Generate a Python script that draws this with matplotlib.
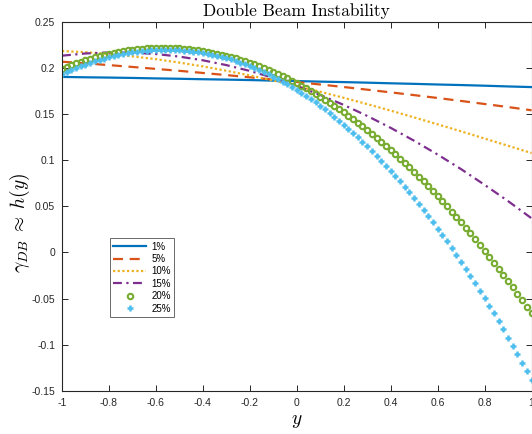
import numpy as np
import matplotlib
matplotlib.use("Agg")
import matplotlib.pyplot as plt
from matplotlib.ticker import FixedLocator, FixedFormatter

plt.rcParams['mathtext.fontset'] = 'cm'

# ---------------- data ----------------
labels = ["1%", "5%", "10%", "15%", "20%", "25%"]

y_coarse = np.linspace(-1, 1, 21)
h_1 = [0.1900, 0.1896, 0.1893, 0.1889, 0.1884, 0.1880, 0.1875, 0.1871, 0.1866, 0.1860, 0.1855,
       0.1849, 0.1844, 0.1838, 0.1831, 0.1825, 0.1818, 0.1812, 0.1805, 0.1797, 0.1790]
h_5 = [0.2065, 0.2047, 0.2028, 0.2008, 0.1987, 0.1966, 0.1943, 0.1920, 0.1896, 0.1871, 0.1845,
       0.1818, 0.1791, 0.1762, 0.1733, 0.1703, 0.1672, 0.1640, 0.1607, 0.1574, 0.1539]
h_10 = [0.2180, 0.2168, 0.2148, 0.2123, 0.2092, 0.2055, 0.2014, 0.1967, 0.1916, 0.1861, 0.1802,
        0.1740, 0.1674, 0.1606, 0.1535, 0.1462, 0.1387, 0.1311, 0.1233, 0.1155, 0.1076]
h_15 = [0.2130, 0.2154, 0.2165, 0.2163, 0.2148, 0.2120, 0.2080, 0.2028, 0.1965, 0.1890, 0.1803,
        0.1705, 0.1597, 0.1478, 0.1349, 0.1209, 0.1060, 0.0902, 0.0732, 0.0556, 0.0370]

y_fine = np.linspace(-1, 1, 101)
h_20 = [0.1990, 0.2010, 0.2030, 0.2048, 0.2066, 0.2082, 0.2098, 0.2113, 0.2126, 0.2139,
        0.2151, 0.2161, 0.2171, 0.2180, 0.2188, 0.2195, 0.2200, 0.2205, 0.2209, 0.2212,
        0.2214, 0.2215, 0.2215, 0.2215, 0.2213, 0.2210, 0.2206, 0.2202, 0.2196, 0.2189,
        0.2182, 0.2173, 0.2164, 0.2153, 0.2142, 0.2130, 0.2116, 0.2102, 0.2087, 0.2071,
        0.2054, 0.2036, 0.2017, 0.1997, 0.1977, 0.1955, 0.1932, 0.1908, 0.1884, 0.1858,
        0.1832,
        0.1805, 0.1776, 0.1747, 0.1717, 0.1686, 0.1654, 0.1621, 0.1587, 0.1552, 0.1517,
        0.1480, 0.1443, 0.1404, 0.1365, 0.1324, 0.1283, 0.1241, 0.1198, 0.1154, 0.1109,
        0.1063, 0.1016, 0.0969, 0.0920, 0.0871, 0.0820, 0.0769, 0.0717, 0.0664, 0.0610,
        0.0555, 0.0499, 0.0442, 0.0385, 0.0326, 0.0266, 0.0206, 0.0145, 0.0083, 0.0020,
        -0.0044, -0.0109, -0.0175, -0.0242, -0.0309, -0.0377, -0.0447, -0.0517, -0.0588, -0.0660]
h_25 = [0.1929, 0.1952, 0.1974, 0.1995, 0.2015, 0.2034, 0.2052, 0.2068, 0.2084, 0.2099,
        0.2113, 0.2125, 0.2137, 0.2147, 0.2157, 0.2165, 0.2172, 0.2179, 0.2184, 0.2188,
        0.2191, 0.2193, 0.2194, 0.2193, 0.2192, 0.2189, 0.2186, 0.2181, 0.2175, 0.2169,
        0.2160, 0.2151, 0.2141, 0.2130, 0.2117, 0.2103, 0.2089, 0.2073, 0.2056, 0.2037,
        0.2018, 0.1997, 0.1976, 0.1953, 0.1929, 0.1904, 0.1877, 0.1850, 0.1821, 0.1791,
        0.1760,
        0.1728, 0.1694, 0.1660, 0.1624, 0.1587, 0.1548, 0.1509, 0.1468, 0.1426, 0.1383,
        0.1339, 0.1293, 0.1247, 0.1198, 0.1149, 0.1099, 0.1047, 0.0994, 0.0940, 0.0884,
        0.0827, 0.0769, 0.0710, 0.0649, 0.0588, 0.0525, 0.0460, 0.0395, 0.0328, 0.0259,
        0.0190, 0.0119, 0.0047, -0.0027, -0.0101, -0.0177, -0.0255, -0.0333, -0.0413, -0.0495,
        -0.0577, -0.0661, -0.0746, -0.0833, -0.0921, -0.1010, -0.1101, -0.1193, -0.1286, -0.1381]

xticks = [-1, -0.8, -0.6, -0.4, -0.2, 0, 0.2, 0.4, 0.6, 0.8, 1]
xticklabels = ["-1", "-0.8", "-0.6", "-0.4", "-0.2", "0", "0.2", "0.4", "0.6", "0.8", "1"]
yticks = [-0.15, -0.1, -0.05, 0, 0.05, 0.1, 0.15, 0.2, 0.25]
yticklabels = ["-0.15", "-0.1", "-0.05", "0", "0.05", "0.1", "0.15", "0.2", "0.25"]

# ---------------- plot ----------------
fig = plt.figure(figsize=(5.32, 4.34), dpi=100)
ax = fig.add_axes([62 / 532, 43 / 434, 469.5 / 532, 369.5 / 434])

c_blue = "#0072BD"
c_orange = "#D95319"
c_yellow = "#EDB120"
c_purple = "#7E2F8E"
c_green = "#77AC30"
c_cyan = "#4DBEEE"

lw = 1.6
ax.plot(y_coarse, h_1, color=c_blue, lw=lw, ls='-', label=labels[0])
ax.plot(y_coarse, h_5, color=c_orange, lw=lw, ls=(0, (4.5, 3)), label=labels[1])
ax.plot(y_coarse, h_10, color=c_yellow, lw=lw, ls=(0, (1, 1.1)), label=labels[2])
ax.plot(y_coarse, h_15, color=c_purple, lw=lw, ls=(0, (4, 2, 1, 2)), label=labels[3])
ax.plot(y_fine, h_20, ls='none', marker='o', ms=3.9, mew=1.5, mfc='none',
        mec=c_green, label=labels[4])
ax.plot(y_fine, h_25, ls='none', marker='+', ms=4.4, mew=1.8,
        mec=c_cyan, label=labels[5])

ax.set_xlim(-1, 1)
ax.set_ylim(-0.15, 0.25)
ax.xaxis.set_major_locator(FixedLocator(xticks))
ax.xaxis.set_major_formatter(FixedFormatter(xticklabels))
ax.yaxis.set_major_locator(FixedLocator(yticks))
ax.yaxis.set_major_formatter(FixedFormatter(yticklabels))

for s in ax.spines.values():
    s.set_color("#262626")
    s.set_linewidth(0.8)
ax.tick_params(direction='in', length=4, width=0.7, color="#262626",
               top=True, right=True, labelsize=7.5, labelcolor="#262626", pad=5)
for lab in ax.get_xticklabels() + ax.get_yticklabels():
    lab.set_family("Liberation Sans")

ax.set_title("Double Beam Instability", fontfamily="cmr10", fontsize=12.5, pad=4)
ax.set_xlabel(r"$y$", fontsize=14, labelpad=2)
ax.set_ylabel(r"$\gamma_{DB}\;\approx\; h(y)$", fontsize=14, labelpad=1)
ax.yaxis.set_label_coords(-0.064, 0.455)

leg = ax.legend(loc='lower left', bbox_to_anchor=(0.102, 0.200),
                prop={'family': 'Liberation Sans', 'size': 7},
                frameon=True, fancybox=False, edgecolor='#262626',
                handlelength=3.4, handletextpad=0.5, borderpad=0.35,
                labelspacing=0.25, borderaxespad=0, numpoints=1)
leg.get_frame().set_linewidth(0.6)

fig.savefig("out.png", dpi=100)
